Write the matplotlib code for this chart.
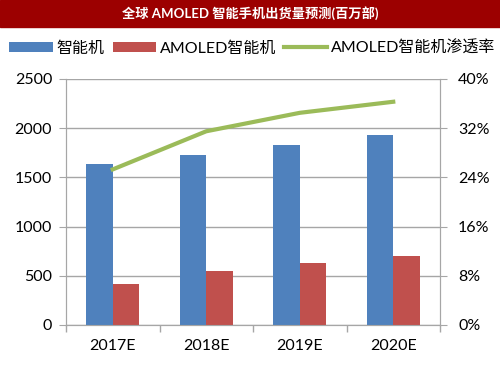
import numpy as np
import matplotlib
matplotlib.use("Agg")
import matplotlib.pyplot as plt
from matplotlib.ticker import FuncFormatter

plt.rcParams['font.family'] = ['Lato', 'Noto Sans CJK SC', 'DejaVu Sans']

### données
years = ["2017E", "2018E", "2019E", "2020E"]
smart = [1633, 1730, 1829, 1928]
amoled = [417, 549, 630, 698]
rate = [25.3, 31.5, 34.5, 36.3]

title = "全球 AMOLED 智能手机出货量预测(百万部)"
names = ["智能机", "AMOLED智能机", "AMOLED智能机渗透率"]

blue = "#4F81BD"
red = "#C0504D"
green = "#9BBB59"
grey = "#A6A6A6"

fig = plt.figure(figsize=(5, 3.75), dpi=100)

# bandeau titre
fig.patches.append(plt.Rectangle((0, 1 - 27/375), 1, 27/375, transform=fig.transFigure,
                                 color="#9C0000", zorder=0))
fig.text(0.5, 1 - 13/375, title, color="white", ha="center", va="center",
         fontsize=9.5, fontweight="bold")

ax = fig.add_axes([66/500, 1 - 325/375, 374/500, 246/375])
x = np.arange(len(years))
w = 0.283
b1 = ax.bar(x - w/2, smart, w, color=blue, label=names[0], zorder=3)
b2 = ax.bar(x + w/2, amoled, w, color=red, label=names[1], zorder=3)

ax.set_xlim(-0.5, 3.5)
ax.set_ylim(0, 2500)
ax.set_yticks(np.arange(0, 2501, 500))
ax.yaxis.grid(True, color=grey, linewidth=1, zorder=0)
ax.set_xticks(x)
ax.set_xticklabels(years)
ax.set_xticks(np.arange(-0.5, 4, 1), minor=True)
ax.tick_params(axis="x", which="major", length=0, pad=10, labelsize=11.5)
ax.tick_params(axis="x", which="minor", length=5, color=grey, width=1)
ax.tick_params(axis="y", length=5, color=grey, labelsize=11.5, pad=5)
ax.spines["top"].set_visible(False)
for s in ["left", "bottom", "right"]:
    ax.spines[s].set_color(grey)

ax2 = ax.twinx()
l1, = ax2.plot(x, rate, color=green, linewidth=3, label=names[2], zorder=4)
ax2.set_ylim(0, 40)
ax2.set_yticks(np.arange(0, 41, 8))
ax2.yaxis.set_major_formatter(FuncFormatter(lambda v, p: "%d%%" % v))
ax2.tick_params(axis="y", length=5, color=grey, labelsize=11.5, pad=8)
ax2.spines["top"].set_visible(False)
for s in ["left", "bottom", "right"]:
    ax2.spines[s].set_color(grey)

fig.legend([b1, b2, l1], names, loc="center", bbox_to_anchor=(0.505, 1 - 48/375),
           ncol=3, frameon=False, fontsize=11.5, handlelength=2.7, handleheight=0.6,
           columnspacing=0.5, handletextpad=0.25)

plt.savefig("out.png")
